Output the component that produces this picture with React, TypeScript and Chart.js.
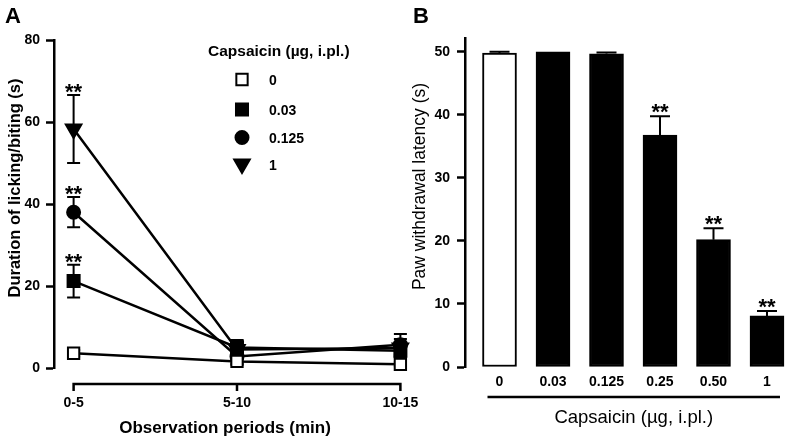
import React, { useEffect, useRef } from 'react';
import { Chart, registerables } from 'chart.js';

Chart.register(...registerables);

// ---------- Panel A data ----------
const periods = ['0-5', '5-10', '10-15'];
const seriesLabels = ['0', '0.03', '0.125', '1'];
const veh = [3.6, 1.6, 0.9];
const vehErr = [0.8, 0.5, 0.5];
const cap003 = [21.2, 5.0, 4.2];
const cap003Err = [4.0, 1.8, 1.8];
const cap0125 = [38.0, 2.8, 5.7];
const cap0125Err = [3.7, 2.0, 2.6];
const cap1 = [58.3, 4.5, 4.9];
const cap1Err = [8.3, 2.2, 2.2];
const sigVeh = ['', '', ''];
const sig003 = ['**', '', ''];
const sig0125 = ['**', '', ''];
const sig1 = ['**', '', ''];
const yTicksA = [0, 20, 40, 60, 80];

// ---------- Panel B data ----------
const doses = ['0', '0.03', '0.125', '0.25', '0.50', '1'];
const latency = [49.8, 50.0, 49.7, 36.8, 20.2, 8.1];
const latencyErr = [0.2, 0, 0.2, 3.0, 1.8, 0.8];
const sigB = ['', '', '', '**', '**', '**'];
const yTicksB = [0, 10, 20, 30, 40, 50];

const FONT = "'Liberation Sans', Arial, Helvetica, sans-serif";

function drawMarker(ctx: CanvasRenderingContext2D, style: string, x: number, y: number, r: number, fill: string) {
  ctx.save();
  ctx.beginPath();
  ctx.lineWidth = 2;
  ctx.strokeStyle = '#000';
  ctx.fillStyle = fill;
  if (style === 'rect') {
    const s = r * Math.SQRT1_2;
    ctx.rect(x - s, y - s, 2 * s, 2 * s);
  } else if (style === 'circle') {
    ctx.arc(x, y, r, 0, Math.PI * 2);
  } else {
    ctx.moveTo(x, y + r);
    ctx.lineTo(x - 0.866 * r, y - 0.5 * r);
    ctx.lineTo(x + 0.866 * r, y - 0.5 * r);
    ctx.closePath();
  }
  ctx.fill();
  ctx.stroke();
  ctx.restore();
}

function text(ctx: CanvasRenderingContext2D, s: string, x: number, y: number, font: string, align: CanvasTextAlign = 'center', baseline: CanvasTextBaseline = 'alphabetic', rot = 0) {
  ctx.save();
  ctx.font = font;
  ctx.fillStyle = '#000';
  ctx.textAlign = align;
  ctx.textBaseline = baseline;
  ctx.translate(x, y);
  if (rot) ctx.rotate(rot);
  ctx.fillText(s, 0, 0);
  ctx.restore();
}

const markerStyles = [
  { pointStyle: 'rect', r: 8, fill: '#fff', rot: 0 },
  { pointStyle: 'rect', r: 8.5, fill: '#000', rot: 0 },
  { pointStyle: 'circle', r: 6.5, fill: '#000', rot: 0 },
  { pointStyle: 'triangle', r: 9, fill: '#000', rot: 180 },
];

function PanelA() {
  const ref = useRef<HTMLCanvasElement>(null);
  useEffect(() => {
    const values = [veh, cap003, cap0125, cap1];
    const errs = [vehErr, cap003Err, cap0125Err, cap1Err];
    const sigs = [sigVeh, sig003, sig0125, sig1];
    const datasets = values.map((vals, k) => ({
      label: seriesLabels[k],
      data: vals.map((v, i) => ({ x: i, y: v })),
      borderColor: '#000',
      borderWidth: 2.5,
      pointStyle: markerStyles[k].pointStyle,
      pointRadius: markerStyles[k].r,
      pointRotation: markerStyles[k].rot,
      pointBackgroundColor: markerStyles[k].fill,
      pointBorderColor: '#000',
      pointBorderWidth: 2,
      fill: false,
      tension: 0,
      clip: false,
    }));
    const plugin = {
      id: 'panelA',
      beforeDatasetsDraw(chart: any) {
        const ctx = chart.ctx;
        const xs = chart.scales.x;
        const ys = chart.scales.y;
        ctx.save();
        ctx.strokeStyle = '#000';
        ctx.lineWidth = 2;
        values.forEach((vals, k) => {
          vals.forEach((v, i) => {
            const e = errs[k][i];
            const x = xs.getPixelForValue(i);
            const y1 = ys.getPixelForValue(v + e);
            const y2 = ys.getPixelForValue(Math.max(v - e, 0));
            ctx.beginPath();
            ctx.moveTo(x, y1); ctx.lineTo(x, y2);
            ctx.moveTo(x - 6.5, y1); ctx.lineTo(x + 6.5, y1);
            ctx.moveTo(x - 6.5, y2); ctx.lineTo(x + 6.5, y2);
            ctx.stroke();
          });
        });
        ctx.restore();
      },
      afterDraw(chart: any) {
        const ctx = chart.ctx;
        const xs = chart.scales.x;
        const ys = chart.scales.y;
        const area = chart.chartArea;
        values.forEach((vals, k) => {
          vals.forEach((v, i) => {
            if (sigs[k][i]) {
              const x = xs.getPixelForValue(i);
              const y = ys.getPixelForValue(v + errs[k][i]);
              text(ctx, sigs[k][i], x, y + 4, `bold 22px ${FONT}`);
            }
          });
        });
        const axY = area.bottom + 16;
        const x0 = xs.getPixelForValue(0);
        const x2 = xs.getPixelForValue(periods.length - 1);
        ctx.save();
        ctx.strokeStyle = '#000';
        ctx.lineWidth = 2.5;
        ctx.beginPath();
        ctx.moveTo(x0 - 1.25, axY);
        ctx.lineTo(x2 + 1.25, axY);
        periods.forEach((_, i) => {
          const x = xs.getPixelForValue(i);
          ctx.moveTo(x, axY);
          ctx.lineTo(x, axY + 7);
        });
        ctx.stroke();
        ctx.restore();
        periods.forEach((p, i) => {
          text(ctx, p, xs.getPixelForValue(i), axY + 23, `bold 14px ${FONT}`);
        });
        text(ctx, 'Observation periods (min)', 225, 433, `bold 17px ${FONT}`);
        text(ctx, 'Duration of licking/biting (s)', 20, 188, `bold 16.5px ${FONT}`, 'center', 'alphabetic', -Math.PI / 2);
        text(ctx, 'A', 5, 23, `bold 22px ${FONT}`, 'left');
        text(ctx, 'Capsaicin (\u00b5g, i.pl.)', 208, 56, `bold 15.5px ${FONT}`, 'left');
        const rows = [85, 115, 143, 169.5];
        seriesLabels.forEach((lab, k) => {
          const ms = markerStyles[k];
          drawMarker(ctx, ms.pointStyle, 242, rows[k] - 5.5, ms.r, ms.fill);
          text(ctx, lab, 269, rows[k], `bold 14px ${FONT}`, 'left');
        });
      },
    };
    const chart = new Chart(ref.current!, {
      type: 'line',
      data: { datasets: datasets as any },
      options: {
        animation: false,
        responsive: false,
        events: [],
        layout: { padding: { left: 0, top: 40, right: 20, bottom: 71 } },
        plugins: { legend: { display: false }, tooltip: { enabled: false } },
        scales: {
          x: { type: 'linear', offset: false, min: -0.12, max: periods.length - 1 + 0.12, display: false },
          y: {
            min: 0,
            max: 80,
            afterBuildTicks: (s: any) => { s.ticks = yTicksA.map((v) => ({ value: v })); },
            afterFit: (s: any) => { s.width = 54; },
            grid: { drawOnChartArea: false, drawTicks: true, tickLength: 8, tickWidth: 2.5, tickColor: '#000' },
            border: { display: true, color: '#000', width: 2.5 },
            ticks: { color: '#000', padding: 6, font: { family: FONT, size: 14, weight: 'bold' } },
          },
        },
      },
      plugins: [plugin],
    } as any);
    return () => chart.destroy();
  }, []);
  return <canvas ref={ref} width={440} height={439} style={{ position: 'absolute', left: 0, top: 0, width: 440, height: 439 }} />;
}

function PanelB() {
  const ref = useRef<HTMLCanvasElement>(null);
  useEffect(() => {
    const plugin = {
      id: 'panelB',
      afterDatasetsDraw(chart: any) {
        const ctx = chart.ctx;
        const xs = chart.scales.x;
        const ys = chart.scales.y;
        ctx.save();
        ctx.strokeStyle = '#000';
        ctx.lineWidth = 2;
        latency.forEach((v, i) => {
          const e = latencyErr[i];
          if (e <= 0) return;
          const x = xs.getPixelForValue(i);
          const yt = ys.getPixelForValue(v + e);
          const yb = ys.getPixelForValue(v);
          ctx.beginPath();
          ctx.moveTo(x, yb); ctx.lineTo(x, yt);
          ctx.moveTo(x - 10, yt); ctx.lineTo(x + 10, yt);
          ctx.stroke();
        });
        ctx.restore();
      },
      afterDraw(chart: any) {
        const ctx = chart.ctx;
        const xs = chart.scales.x;
        const ys = chart.scales.y;
        const area = chart.chartArea;
        latency.forEach((v, i) => {
          if (sigB[i]) {
            const x = xs.getPixelForValue(i);
            const y = ys.getPixelForValue(v + latencyErr[i]);
            text(ctx, sigB[i], x, y + 3, `bold 22px ${FONT}`);
          }
        });
        doses.forEach((d, i) => {
          text(ctx, d, xs.getPixelForValue(i), area.bottom + 19, `bold 14px ${FONT}`);
        });
        const lx0 = xs.getPixelForValue(0) - 12;
        const lx1 = xs.getPixelForValue(doses.length - 1) + 13;
        const ly = area.bottom + 30;
        ctx.save();
        ctx.strokeStyle = '#000';
        ctx.lineWidth = 2.5;
        ctx.beginPath();
        ctx.moveTo(lx0, ly);
        ctx.lineTo(lx1, ly);
        ctx.stroke();
        ctx.restore();
        text(ctx, 'Capsaicin (\u00b5g, i.pl.)', (lx0 + lx1) / 2, area.bottom + 56, `18.5px ${FONT}`);
        text(ctx, 'Paw withdrawal latency (s)', 25, 186.5, `17.5px ${FONT}`, 'center', 'alphabetic', -Math.PI / 2);
        text(ctx, 'B', 13, 23, `bold 22px ${FONT}`, 'left');
      },
    };
    const chart = new Chart(ref.current!, {
      type: 'bar',
      data: {
        datasets: [
          {
            data: latency.map((v, i) => ({ x: i, y: v })),
            backgroundColor: latency.map((_, i) => (i === 0 ? '#fff' : '#000')),
            borderColor: '#000',
            borderWidth: 2,
            borderSkipped: false,
            barThickness: 34,
          },
        ],
      },
      options: {
        animation: false,
        responsive: false,
        events: [],
        layout: { padding: { left: 0, top: 38, right: 0, bottom: 72 } },
        plugins: { legend: { display: false }, tooltip: { enabled: false } },
        scales: {
          x: { type: 'linear', offset: false, grid: { offset: false }, min: -0.645, max: doses.length - 1 + 0.374, display: false },
          y: {
            min: 0,
            max: 52.2,
            afterBuildTicks: (s: any) => { s.ticks = yTicksB.map((v) => ({ value: v })); },
            afterFit: (s: any) => { s.width = 65; },
            grid: { drawOnChartArea: false, drawTicks: true, tickLength: 8, tickWidth: 2.5, tickColor: '#000' },
            border: { display: true, color: '#000', width: 2.5 },
            ticks: { color: '#000', padding: 7, font: { family: FONT, size: 14, weight: 'bold' } },
          },
        },
      },
      plugins: [plugin],
    } as any);
    return () => chart.destroy();
  }, []);
  return <canvas ref={ref} width={387} height={439} style={{ position: 'absolute', left: 400, top: 0, width: 387, height: 439 }} />;
}

export default function App() {
  return (
    <div style={{ position: 'fixed', left: 0, top: 0, width: 787, height: 439, overflow: 'hidden', background: '#fff' }}>
      <PanelA />
      <PanelB />
    </div>
  );
}
